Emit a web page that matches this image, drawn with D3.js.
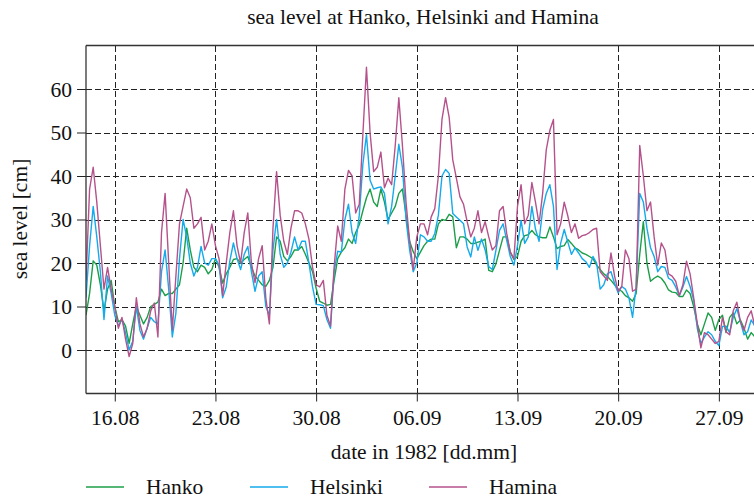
<!DOCTYPE html>
<html>
<head>
<meta charset="utf-8">
<script src="https://cdn.jsdelivr.net/npm/d3@7"></script>
<style>
  html, body { margin: 0; padding: 0; background: #fff; }
  svg { display: block; }
  text { font-family: "Liberation Serif", "DejaVu Serif", serif; fill: #111; }
</style>
</head>
<body>
<svg id="chart" width="754" height="501"></svg>
<script>
// Sea level (cm) at 6-hour steps starting 14.08.1982 00:00
const startDate = new Date(Date.UTC(1982, 7, 14, 0));
const stepHours = 6;

const hanko = [
  8, 13, 20.5, 19.5,  15, 9, 14, 16,  10, 6.5, 7, 5.5,  1.5, 6, 10, 8,
  6, 7.5, 10, 10.5,  11, 14, 12.5, 13,  13, 14, 15, 20,  28, 23, 19, 18,
  19.5, 19, 17.5, 18.5,  21, 19, 15.4, 17.5,  19, 20.8, 21, 20,  20.8, 21.5, 19, 17,
  16, 15, 14.6, 16,  19, 26, 25, 21.5,  20.5, 21.5, 23, 23,  23.8, 22, 20, 18,
  14.2, 11.2, 10.8, 10.3,  10.5, 16, 21, 22.5,  23.5, 25.5, 24.5, 27,  28.8, 32, 35, 37,
  34, 33, 37, 34,  30, 31.5, 33, 36,  37, 31, 25, 22.6,  21, 22.5, 24, 25,
  25.5, 25.5, 29, 30,  29.8, 31.2, 30.6, 23.5,  26, 26, 25.5, 24.5,  24.5, 24.8, 25, 25.5,
  18.3, 18, 19.8, 22.9,  26, 26, 22.5, 20.8,  21.5, 25, 26.3, 26.5,  27.5, 26.5, 26, 25.8,
  25.8, 28.3, 26, 23.3,  23.8, 24, 25.4, 24.5,  23.5, 23, 22.3, 22,  21.5, 21, 19.5, 18.5,
  17.5, 16.9, 16, 15,  14, 13.5, 12.5, 12,  11.2, 13, 22, 29.5,  20, 15.8, 16.5, 17,
  16.5, 15.4, 13.8, 13.3,  13.2, 12.3, 12.3, 13.8,  13, 10, 6, 3.5,  6, 8.5, 7.5, 4.5,
  7, 8, 4, 7.5,  8.5, 6, 6.9, 5,  2.5, 4, 3, 3
];

const helsinki = [
  12, 24, 33, 26,  18, 7, 17, 13,  8, 5.5, 7, 4,  0, 2, 10, 4.5,
  2.5, 5, 7.5, 6.5,  6, 18, 23, 14,  3, 8.5, 21, 30,  26, 20, 17, 19,
  23.8, 20, 19.5, 21,  21, 19.5, 12, 14.5,  20.5, 24.6, 21, 18.5,  22, 23.8, 18, 13.5,
  17, 18, 10, 8,  23, 30, 22, 19,  20, 22.5, 26, 23,  25, 25, 20, 14.5,
  10.5, 10.4, 10.2, 7,  5, 18, 22.7, 22.5,  30, 33.5, 27, 24.5,  31, 42.7, 49.5, 39,
  37, 37.3, 37.5, 36,  29, 33, 40, 47.3,  42, 30, 23, 18,  20, 26.5, 26, 25,
  25, 26.8, 31, 40,  41.5, 40.6, 31.4, 30.6,  29.8, 29, 23.7, 21.4,  26, 22.9, 25.5, 23,
  19.2, 18.5, 22.9, 27.5,  29, 25.2, 21.5, 19.5,  24, 29.8, 24.5, 26,  33, 27.8, 25, 32.3,
  36, 38, 33, 18.5,  24.5, 27.7, 24.8, 22,  23.5, 22.3, 21, 20.3,  19, 21.5, 20, 14,
  15, 17.5, 18, 15.3,  13.1, 14.6, 14, 12,  7.5, 14.6, 36, 34,  28, 23.5, 21.5, 18,
  19.2, 19, 16.5, 16,  14.5, 12.5, 14.5, 16.9,  14.6, 11.5, 5, 1.5,  3, 4.2, 3.5, 2,
  1, 5.4, 5.5, 4,  7.5, 9.5, 6.5, 3.5,  4.2, 6.9, 5.5, 5.5
];

const hamina = [
  16, 37, 42, 34,  24, 14, 19, 14,  10, 5, 7.5, 2.5,  -1.5, 1.5, 12, 6,
  3, 5, 9, 10.8,  3, 27, 36, 20,  4.6, 17, 29, 33,  37, 35, 28, 29,
  30.5, 23, 25, 29,  24, 21, 12.5, 20,  27, 32, 24, 20,  27, 31.5, 20, 15.5,
  21, 24, 12, 6,  28, 41, 31, 25,  22, 28, 32, 32,  31.5, 29, 25.5, 19,
  15, 14.5, 16, 8,  5.5, 19, 28.5, 25,  37, 41.3, 40, 31.5,  33.5, 49.6, 65, 50,
  41, 42, 45.5, 37.3,  39.5, 38, 47, 58,  47, 34, 25, 18.5,  26, 29, 29, 26.5,
  30.6, 32.5, 40, 53,  58, 53.5, 43.7, 39.5,  35.2, 33.5, 29.5, 26,  28, 32, 27, 29.5,
  26, 23, 24, 32,  33, 26.8, 22.5, 21,  33, 38, 29, 31,  38.5, 34, 29, 36,
  46, 50.5, 53, 26.5,  29, 34, 30.8, 27,  29, 25.7, 26.3, 26.5,  27, 27.7, 28, 18,
  17, 16, 22.3, 17,  13.5, 14.6, 23, 21,  13.5, 14, 47, 40,  32, 34, 26, 19.5,
  24.6, 23, 17.5, 17,  15.8, 12.5, 15, 20.4,  17.5, 12, 6, 0.5,  4, 3.5, 2.5, 1.5,
  2, 7.5, 4.2, 3.5,  9, 11, 6.5, 4.5,  7.5, 9, 5.5, 6
];

const stations = ["Hanko", "Helsinki", "Hamina"];
const colors = ["#1c9e48", "#14aaeb", "#b5528b"];
const yTicks = [0, 10, 20, 30, 40, 50, 60];
const xTickDates = [
  [7, 16], [7, 23], [7, 30], [8, 6], [8, 13], [8, 20], [8, 27]
].map(([m, d]) => new Date(Date.UTC(1982, m, d)));

const W = 754, H = 501;
const FS = 21.5;
const margin = { left: 86, top: 45.5, right: 762, bottom: 393.5 };

const svg = d3.select("#chart");

const x = d3.scaleUtc()
  .domain([startDate, new Date(Date.UTC(1982, 8, 30))])
  .range([margin.left, margin.right]);
const y = d3.scaleLinear().domain([-10, 70]).range([margin.bottom, margin.top]);

const timeAt = i => new Date(startDate.getTime() + i * stepHours * 3600e3);

// grid
const grid = svg.append("g").attr("stroke", "#222").attr("stroke-width", 1)
  .attr("stroke-dasharray", "6,3").attr("shape-rendering", "crispEdges");
grid.selectAll("line.h").data(yTicks).join("line")
  .attr("x1", margin.left).attr("x2", W)
  .attr("y1", d => Math.round(y(d)) + 0.5).attr("y2", d => Math.round(y(d)) + 0.5);
grid.selectAll("line.v").data(xTickDates).join("line")
  .attr("y1", margin.top).attr("y2", margin.bottom)
  .attr("x1", d => Math.round(x(d)) + 0.5).attr("x2", d => Math.round(x(d)) + 0.5);

// series
svg.append("clipPath").attr("id", "plotclip").append("rect")
  .attr("x", margin.left).attr("y", margin.top)
  .attr("width", margin.right - margin.left).attr("height", margin.bottom - margin.top);

const line = d3.line().x((d, i) => x(timeAt(i))).y(d => y(d));
const seriesValues = [hanko, helsinki, hamina];
svg.append("g").attr("clip-path", "url(#plotclip)")
  .selectAll("path").data(seriesValues).join("path")
  .attr("fill", "none")
  .attr("stroke", (d, i) => colors[i])
  .attr("stroke-width", 1.4)
  .attr("stroke-linejoin", "round")
  .attr("d", d => line(d));

// axes
const xAxis = d3.axisBottom(x).tickValues(xTickDates)
  .tickFormat(d3.utcFormat("%d.%m")).tickSize(8).tickSizeOuter(0);
const gx = svg.append("g").attr("transform", `translate(0,${margin.bottom})`).call(xAxis);
const yAxis = d3.axisLeft(y).tickValues(yTicks).tickSize(9).tickSizeOuter(0);
const gy = svg.append("g").attr("transform", `translate(${margin.left},0)`).call(yAxis);

[gx, gy].forEach(g => {
  g.select(".domain").remove();
  g.selectAll(".tick line").attr("stroke", "#222");
  g.selectAll(".tick text").attr("font-family", "Liberation Serif, serif")
    .attr("font-size", FS).attr("fill", "#111");
});
gx.selectAll(".tick text").attr("y", 31.5).attr("dy", 0);
gy.selectAll(".tick text").attr("x", -14).attr("dy", "0.34em");

// frame
const frame = svg.append("g").attr("stroke", "#333").attr("stroke-width", 1.3).attr("fill", "none");
frame.append("line").attr("x1", margin.left).attr("x2", margin.left).attr("y1", margin.top).attr("y2", margin.bottom);
frame.append("line").attr("x1", margin.left).attr("x2", W).attr("y1", margin.bottom).attr("y2", margin.bottom);
frame.append("line").attr("x1", margin.left).attr("x2", W).attr("y1", margin.top).attr("y2", margin.top);

// titles
svg.append("text").attr("x", 423).attr("y", 24).attr("text-anchor", "middle")
  .attr("font-size", FS).text("sea level at Hanko, Helsinki and Hamina");
svg.append("text").attr("x", 424).attr("y", 459).attr("text-anchor", "middle")
  .attr("font-size", FS).text("date in 1982 [dd.mm]");
svg.append("text").attr("transform", "translate(27,219) rotate(-90)")
  .attr("text-anchor", "middle").attr("font-size", FS).text("sea level [cm]");

// legend
const legendX = [86, 250, 429];
const lg = svg.append("g").selectAll("g").data(stations).join("g")
  .attr("transform", (d, i) => `translate(${legendX[i]},487)`);
lg.append("line").attr("x1", 0).attr("x2", 38).attr("y1", 0).attr("y2", 0)
  .attr("stroke", (d, i) => colors[i]).attr("stroke-width", 1.6);
lg.append("text").attr("x", 60).attr("y", 7).attr("font-size", FS).text(d => d);
</script>
</body>
</html>
